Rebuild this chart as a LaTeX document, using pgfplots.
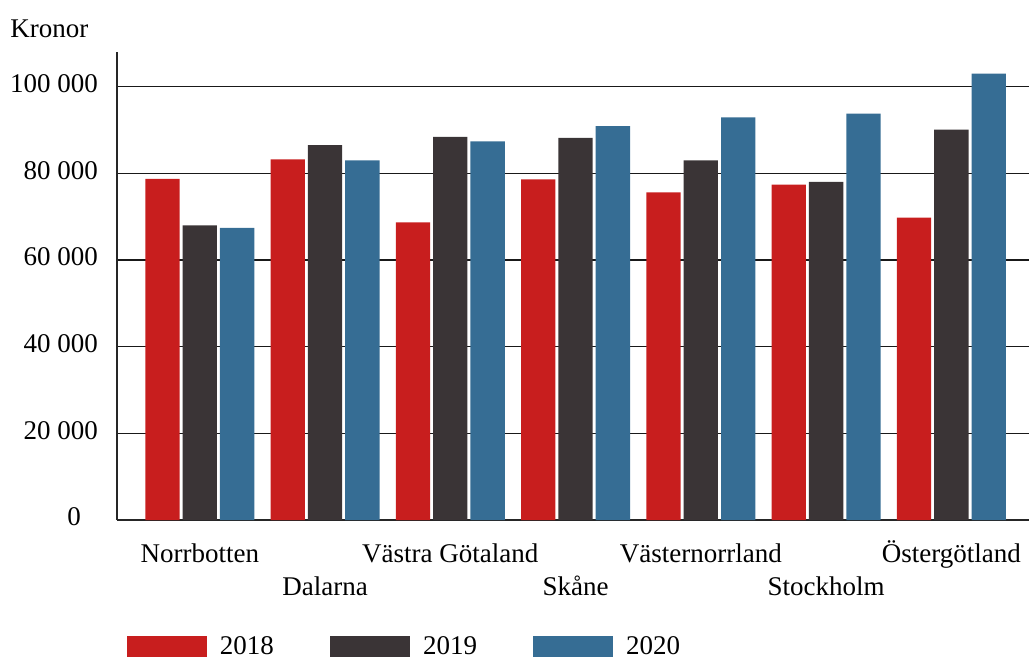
\documentclass[border=0pt]{standalone}
\usepackage{fontspec}
\setmainfont{Liberation Serif}
\usepackage{pgfplots}
\pgfplotsset{compat=1.18}
\definecolor{cred}{RGB}{200,30,30}
\definecolor{cdark}{RGB}{58,52,54}
\definecolor{cblue}{RGB}{54,109,148}
\begin{document}
\begin{tikzpicture}
\begin{axis}[
  scale only axis,
  clip=false,
  width=456pt, height=234pt,
  font=\fontsize{13.5pt}{16pt}\selectfont,
  ybar, bar width=0.274,
  xmin=-0.661, xmax=6.62,
  ymin=0, ymax=108000,
  scaled y ticks=false,
  axis x line=bottom, axis y line=left,
  axis line style={-, line width=1pt, color=black!85},
  xtick={0,...,6},
  xticklabels={Norrbotten,\raisebox{-16.5pt}{Dalarna},V\"astra G\"otaland,\raisebox{-16.5pt}{Sk\aa ne},V\"asternorrland,\raisebox{-16.5pt}{Stockholm},\"Osterg\"otland},
  xticklabel style={anchor=base, yshift=-21pt},
  ytick={0,20000,40000,60000,80000,100000},
  yticklabels={0\kern8.5pt,20 000,40 000,60 000,80 000,100 000},
  yticklabel style={anchor=east, xshift=-6pt, yshift=1.5pt},
  major tick length=0pt,
  ymajorgrids,
  grid style={line width=0.8pt, color=black!90},
  legend columns=3,
  legend image code/.code={\fill[#1] (0pt,-5.25pt) rectangle (40pt,5.25pt);},
  legend style={at={(rel axis cs:0,0)}, anchor=south west, xshift=5pt, yshift=-70.5pt,
    draw=none, inner sep=0pt, outer sep=0pt,
    /tikz/every odd column/.append style={column sep=4.5pt},
    /tikz/every even column/.append style={column sep=26pt},
    font=\fontsize{13.5pt}{16pt}\selectfont},
]
\addplot[fill=cred, draw=none, bar shift=-0.298] coordinates {(0,78700) (1,83200) (2,68700) (3,78600) (4,75600) (5,77400) (6,69800)};
\addplot[fill=cdark, draw=none, bar shift=0] coordinates {(0,68000) (1,86500) (2,88400) (3,88200) (4,83000) (5,78000) (6,90100)};
\addplot[fill=cblue, draw=none, bar shift=0.298] coordinates {(0,67400) (1,83000) (2,87400) (3,90900) (4,92900) (5,93800) (6,103000)};
\legend{2018,2019,2020}
\coordinate (sw) at (rel axis cs:0,0);
\coordinate (ne) at (rel axis cs:1,1);
\node[anchor=base west, inner sep=0pt] at ([xshift=-53.5pt, yshift=7.2pt]rel axis cs:0,1) {Kronor};
\end{axis}
\pgfresetboundingbox
\path ([xshift=-58.5pt,yshift=-68.5pt]sw) rectangle ([yshift=26pt]ne);
\end{tikzpicture}
\end{document}
